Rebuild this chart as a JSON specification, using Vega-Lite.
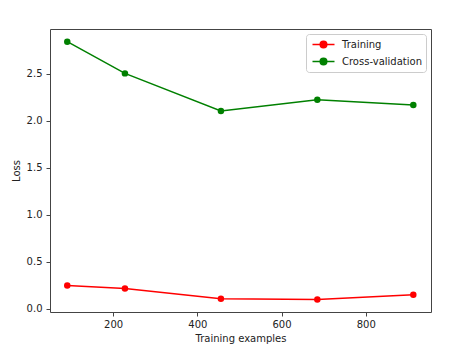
{
  "$schema": "https://vega.github.io/schema/vega-lite/v6.json",
  "autosize": "none",
  "width": 381,
  "height": 283,
  "padding": {"left": 50, "top": 29, "right": 38, "bottom": 46},
  "background": "white",
  "config": {
    "font": "DejaVu Sans",
    "view": {"stroke": "#444", "strokeWidth": 1},
    "axis": {
      "grid": false,
      "domain": false,
      "tickColor": "#444",
      "tickSize": 4,
      "labelColor": "#222",
      "labelFontSize": 10,
      "labelFont": "DejaVu Sans",
      "titleFont": "DejaVu Sans",
      "titleFontSize": 10,
      "titleFontWeight": "normal",
      "titleColor": "#222"
    }
  },
  "data": {
    "values": [
      {"set": "Training", "n": 91, "loss": 0.248},
      {"set": "Training", "n": 228, "loss": 0.216},
      {"set": "Training", "n": 456, "loss": 0.106},
      {"set": "Training", "n": 685, "loss": 0.099},
      {"set": "Training", "n": 913, "loss": 0.149},
      {"set": "Cross-validation", "n": 91, "loss": 2.84},
      {"set": "Cross-validation", "n": 228, "loss": 2.503},
      {"set": "Cross-validation", "n": 456, "loss": 2.103},
      {"set": "Cross-validation", "n": 685, "loss": 2.223},
      {"set": "Cross-validation", "n": 913, "loss": 2.167}
    ]
  },
  "encoding": {
    "x": {
      "field": "n", "type": "quantitative",
      "scale": {"domain": [50, 955], "nice": false, "zero": false},
      "axis": {"title": "Training examples", "values": [200, 400, 600, 800], "format": "d", "labelPadding": 3, "titlePadding": 4}
    },
    "y": {
      "field": "loss", "type": "quantitative",
      "scale": {"domain": [-0.035, 2.975], "nice": false, "zero": false},
      "axis": {"title": "Loss", "values": [0, 0.5, 1, 1.5, 2, 2.5], "format": ".1f", "labelPadding": 4, "titlePadding": 5}
    },
    "color": {
      "field": "set", "type": "nominal",
      "scale": {"domain": ["Training", "Cross-validation"], "range": ["#ff0000", "#008000"]},
      "legend": {
        "title": null,
        "orient": "top-right",
        "offset": 5,
        "padding": 4,
        "strokeColor": "#cccccc",
        "fillColor": "white",
        "cornerRadius": 3,
        "labelFontSize": 10,
        "labelFont": "DejaVu Sans",
        "labelColor": "#222",
        "rowPadding": 4,
        "symbolType": "M-2,0H2M-0.6,0A0.6,0.6 0 1,1 0.6,0A0.6,0.6 0 1,1 -0.6,0",
        "symbolSize": 121,
        "symbolStrokeWidth": 1.5,
        "symbolOffset": 7,
        "labelOffset": 12,
        "encode": {
          "symbols": {
            "update": {
              "fill": {"scale": "color", "field": "value"},
              "stroke": {"scale": "color", "field": "value"}
            }
          }
        }
      }
    }
  },
  "layer": [
    {"mark": {"type": "line", "strokeWidth": 1.5}},
    {"mark": {"type": "circle", "size": 42, "opacity": 1}}
  ]
}
